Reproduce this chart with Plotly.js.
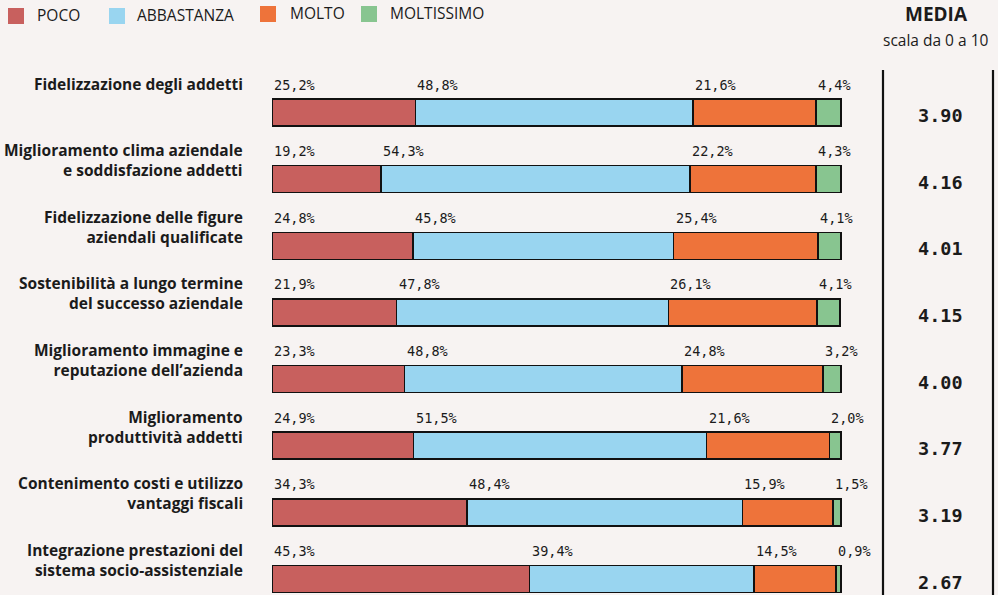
<!DOCTYPE html>
<html>
<head>
<meta charset="utf-8">
<script src="https://cdn.plot.ly/plotly-3.0.1.min.js"></script>
<style>
  html, body { margin: 0; padding: 0; background: #f7f3f2; }
  #chart { width: 998px; height: 595px; }
</style>
</head>
<body>
<div id="chart"></div>
<script>
// ---- DATA ----
var categories = [
  "Fidelizzazione degli addetti",
  "Miglioramento clima aziendale<br>e soddisfazione addetti",
  "Fidelizzazione delle figure<br>aziendali qualificate",
  "Sostenibilità a lungo termine<br>del successo aziendale",
  "Miglioramento immagine e<br>reputazione dell’azienda",
  "Miglioramento<br>produttività addetti",
  "Contenimento costi e utilizzo<br>vantaggi fiscali",
  "Integrazione prestazioni del<br>sistema socio-assistenziale"
];
var seriesNames = ["POCO", "ABBASTANZA", "MOLTO", "MOLTISSIMO"];
var poco       = [25.2, 19.2, 24.8, 21.9, 23.3, 24.9, 34.3, 45.3];
var abbastanza = [48.8, 54.3, 45.8, 47.8, 48.8, 51.5, 48.4, 39.4];
var molto      = [21.6, 22.2, 25.4, 26.1, 24.8, 21.6, 15.9, 14.5];
var moltissimo = [4.4, 4.3, 4.1, 4.1, 3.2, 2.0, 1.5, 0.9];
var media      = [3.90, 4.16, 4.01, 4.15, 4.00, 3.77, 3.19, 2.67];
var mediaTitle = "MEDIA";
var mediaSubtitle = "scala da 0 a 10";

// ---- STYLE ----
var colors = ["#c8605e", "#99d5f0", "#ee733a", "#88c590"];
var bg = "#f7f3f2";
var ink = "#1b1b1b";
var W = 998, H = 595;
var M = {l: 272, r: 155, t: 79, b: 0};
var XMAX = 100.4;
var plotW = W - M.l - M.r, plotH = H - M.t - M.b;
function px(x) { return (x - M.l) / plotW; }
function py(y) { return (H - M.b - y) / plotH; }

var series = [poco, abbastanza, molto, moltissimo];
var yIdx = categories.map(function (_, i) { return i; });

var traces = series.map(function (vals, s) {
  return {
    type: "bar",
    orientation: "h",
    name: seriesNames[s],
    x: vals,
    y: yIdx,
    width: 0.405,
    cliponaxis: false,
    marker: {color: colors[s], line: {color: "#111", width: 1.6}},
    hoverinfo: "x+name",
    showlegend: false
  };
});

var annotations = [];
var shapes = [];

categories.forEach(function (c, i) {
  // percentage labels, left-aligned at each segment start
  var cum = 0;
  series.forEach(function (vals, s) {
    annotations.push({
      xref: "x", yref: "y", x: cum, y: i,
      xanchor: "left", yanchor: "middle", xshift: 0, yshift: 28,
      text: vals[i].toFixed(1).replace(".", ",") + "%",
      showarrow: false,
      font: {family: "DejaVu Sans Mono", size: 13.5, color: ink}
    });
    cum += vals[i];
  });
  // category labels
  annotations.push({
    xref: "paper", yref: "y", x: px(245), y: i,
    xanchor: "right", yanchor: "top", yshift: 42,
    align: "right",
    text: "<b>" + c + "</b>",
    showarrow: false,
    font: {family: "Open Sans", size: 15.5, color: ink}
  });
  // media values
  annotations.push({
    xref: "paper", yref: "y", x: px(940), y: i,
    xanchor: "center", yanchor: "middle", yshift: -3,
    text: "<b>" + media[i].toFixed(2) + "</b>",
    showarrow: false,
    font: {family: "DejaVu Sans Mono", size: 18.5, color: ink}
  });
});

// media header
annotations.push({
  xref: "paper", yref: "paper", x: px(936), y: py(14),
  xanchor: "center", yanchor: "middle",
  text: "<b>" + mediaTitle + "</b>", showarrow: false,
  font: {family: "Open Sans", size: 19, color: ink}
});
annotations.push({
  xref: "paper", yref: "paper", x: px(935), y: py(40),
  xanchor: "center", yanchor: "middle",
  text: mediaSubtitle, showarrow: false,
  font: {family: "Open Sans", size: 15.5, color: ink}
});

// vertical lines around media column
[883, 993].forEach(function (xp) {
  shapes.push({
    type: "line", xref: "paper", yref: "paper",
    x0: px(xp), x1: px(xp), y0: py(70), y1: py(595),
    line: {color: "#111", width: 2.2}
  });
});

// custom legend
var legSq = [[8, 8], [109, 8], [260, 6], [361, 6]];
var legTx = [35, 135, 288, 388];
seriesNames.forEach(function (n, s) {
  shapes.push({
    type: "rect", xref: "paper", yref: "paper",
    x0: px(legSq[s][0]), x1: px(legSq[s][0] + 16),
    y0: py(legSq[s][1]), y1: py(legSq[s][1] + 16),
    fillcolor: colors[s], line: {width: 0}
  });
  annotations.push({
    xref: "paper", yref: "paper", x: px(legTx[s]), y: py(s < 2 ? 15 : 13),
    xanchor: "left", yanchor: "middle",
    text: n, showarrow: false,
    font: {family: "Open Sans", size: 15.5, color: ink}
  });
});

var layout = {
  width: W, height: H,
  margin: M,
  paper_bgcolor: bg, plot_bgcolor: bg,
  barmode: "stack",
  bargap: 0,
  xaxis: {range: [0, XMAX], visible: false, fixedrange: true},
  yaxis: {range: [7.24, -0.503], visible: false, fixedrange: true},
  annotations: annotations,
  shapes: shapes,
  showlegend: false
};

Plotly.newPlot("chart", traces, layout, {displayModeBar: false, staticPlot: true});
</script>
</body>
</html>
